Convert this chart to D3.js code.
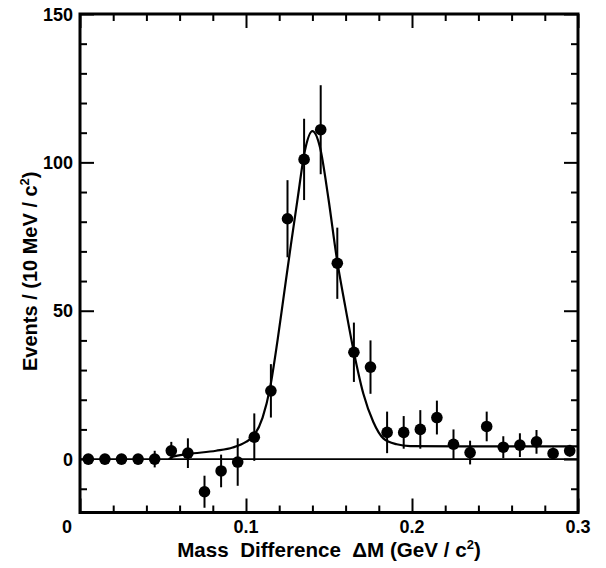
<!DOCTYPE html>
<html>
<head>
<meta charset="utf-8">
<script src="https://cdn.jsdelivr.net/npm/d3@7"></script>
<style>
  body { margin: 0; background: #fff; }
  text { font-family: "Liberation Sans", Arial, Helvetica, sans-serif; font-weight: bold; fill: #000; }
</style>
</head>
<body>
<svg id="chart" width="606" height="568"></svg>
<script>
// bin centres (GeV/c^2)
const massDiff = [0.005, 0.015, 0.025, 0.035, 0.045, 0.055, 0.065, 0.075, 0.085, 0.095,
  0.105, 0.115, 0.125, 0.135, 0.145, 0.155, 0.165, 0.175, 0.185, 0.195,
  0.205, 0.215, 0.225, 0.235, 0.245, 0.255, 0.265, 0.275, 0.285, 0.295]
// events per bin and their errors
const events = [0, 0, 0, 0, 0, 2.8, 2, -11, -4, -1,
  7.4, 23, 81, 101, 111, 66, 36, 31, 9, 9,
  10, 14, 5, 2.2, 11, 4, 4.7, 5.8, 1.9, 2.8]
const errors = [0, 0, 0, 0, 2.8, 3, 5, 5.4, 5.5, 8,
  8, 9, 13, 13.7, 15, 12, 10, 9, 7, 5.5,
  6.5, 5.7, 5, 4, 5, 3.7, 4, 4, 2, 2]
// fitted curve
const fitX = [0.0535, 0.056, 0.065, 0.082, 0.092, 0.100, 0.105, 0.110, 0.1145, 0.119,
  0.1225, 0.127, 0.1309, 0.1355, 0.140, 0.1446, 0.1496, 0.1546, 0.1596, 0.165,
  0.1707, 0.1767, 0.1827, 0.1908, 0.1988, 0.23, 0.26, 0.3]
const fitY = [0, 0.8, 1.7, 2.8, 3.9, 5.8, 8.1, 14, 24, 40,
  54, 72, 87, 104, 110.5, 105, 88, 68, 52, 36,
  22, 12.5, 7, 5, 4.4, 4.3, 4.3, 4.3]
// axis ticks
const xMinorTicks = [0.02, 0.04, 0.06, 0.08, 0.12, 0.14, 0.16, 0.18, 0.22, 0.24, 0.26, 0.28]
const xMajorTicks = [0, 0.1, 0.2, 0.3]
const xTickLabels = ['0', '0.1', '0.2', '0.3']
const yMinorTicks = [-10, 10, 20, 30, 40, 60, 70, 80, 90, 110, 120, 130, 140]
const yMajorTicks = [0, 50, 100, 150]
const yTickLabels = ['0', '50', '100', '150']

const svg = d3.select('#chart')
const plot = { left: 80, right: 578, top: 14, bottom: 512.5 }

const x = d3.scaleLinear().domain([0, 0.3]).range([plot.left, plot.right])
const y = d3.scaleLinear().domain([-18, 150]).range([plot.bottom, plot.top])

const tickAxis = (gen, scale, values, size, translate) => {
  const g = svg.append('g')
    .attr('transform', translate)
    .call(gen(scale).tickValues(values).tickSize(-size).tickFormat(''))
  g.select('.domain').remove()
  g.selectAll('line').attr('stroke', '#000').attr('stroke-width', 2)
  return g
}

// ticks on all four sides, pointing inwards
tickAxis(d3.axisBottom, x, xMinorTicks, 7, `translate(0,${plot.bottom})`)
tickAxis(d3.axisBottom, x, xMajorTicks, 14, `translate(0,${plot.bottom})`)
tickAxis(d3.axisTop, x, xMinorTicks, 7, `translate(0,${plot.top})`)
tickAxis(d3.axisTop, x, xMajorTicks, 14, `translate(0,${plot.top})`)
tickAxis(d3.axisLeft, y, yMinorTicks, 7, `translate(${plot.left},0)`)
tickAxis(d3.axisLeft, y, yMajorTicks, 14, `translate(${plot.left},0)`)
tickAxis(d3.axisRight, y, yMinorTicks, 7, `translate(${plot.right},0)`)
tickAxis(d3.axisRight, y, yMajorTicks, 14, `translate(${plot.right},0)`)

// tick labels
svg.append('g').selectAll('text')
  .data(xMajorTicks)
  .enter()
  .append('text')
  .attr('x', (d, i) => i === 0 ? x(d) - 13 : x(d))
  .attr('y', 532.5)
  .attr('text-anchor', 'middle')
  .attr('font-size', 18)
  .text((d, i) => xTickLabels[i])

svg.append('g').selectAll('text')
  .data(yMajorTicks)
  .enter()
  .append('text')
  .attr('x', plot.left - 7)
  .attr('y', d => y(d) + 6.5)
  .attr('text-anchor', 'end')
  .attr('font-size', 18)
  .text((d, i) => yTickLabels[i])

// zero line
svg.append('line')
  .attr('x1', plot.left).attr('x2', plot.right)
  .attr('y1', y(0)).attr('y2', y(0))
  .attr('stroke', '#000')
  .attr('stroke-width', 1.6)

// fit curve
const line = d3.line()
  .x(d => x(d[0]))
  .y(d => y(d[1]))
  .curve(d3.curveMonotoneX)
svg.append('path')
  .datum(fitX.map((d, i) => [d, fitY[i]]))
  .attr('d', line)
  .attr('fill', 'none')
  .attr('stroke', '#000')
  .attr('stroke-width', 2.2)

// data points with error bars
const points = massDiff.map((d, i) => ({ m: d, n: events[i], e: errors[i] }))
svg.append('g').selectAll('line')
  .data(points.filter(d => d.e > 0))
  .enter()
  .append('line')
  .attr('x1', d => x(d.m)).attr('x2', d => x(d.m))
  .attr('y1', d => y(d.n - d.e)).attr('y2', d => y(d.n + d.e))
  .attr('stroke', '#000')
  .attr('stroke-width', 2)
svg.append('g').selectAll('circle')
  .data(points)
  .enter()
  .append('circle')
  .attr('cx', d => x(d.m))
  .attr('cy', d => y(d.n))
  .attr('r', 5.8)
  .attr('fill', '#000')

// frame
svg.append('rect')
  .attr('x', plot.left).attr('y', plot.top)
  .attr('width', plot.right - plot.left).attr('height', plot.bottom - plot.top)
  .attr('fill', 'none')
  .attr('stroke', '#000')
  .attr('stroke-width', 3)

// axis titles
const xTitle = svg.append('text')
  .attr('x', (plot.left + plot.right) / 2)
  .attr('y', 556.5)
  .attr('text-anchor', 'middle')
  .attr('font-size', 20.6)
  .style('white-space', 'pre')
xTitle.append('tspan').text('Mass  Difference  \u0394M (GeV / c')
xTitle.append('tspan').attr('dy', -8).attr('font-size', 13).text('2')
xTitle.append('tspan').attr('dy', 8).text(')')

const yTitle = svg.append('text')
  .attr('transform', `translate(37,${(plot.top + plot.bottom) / 2 + 8}) rotate(-90)`)
  .attr('text-anchor', 'middle')
  .attr('font-size', 20)
  .style('white-space', 'pre')
yTitle.append('tspan').text('Events / (10 MeV / c')
yTitle.append('tspan').attr('dy', -8).attr('font-size', 13).text('2')
yTitle.append('tspan').attr('dy', 8).text(')')
</script>
</body>
</html>
